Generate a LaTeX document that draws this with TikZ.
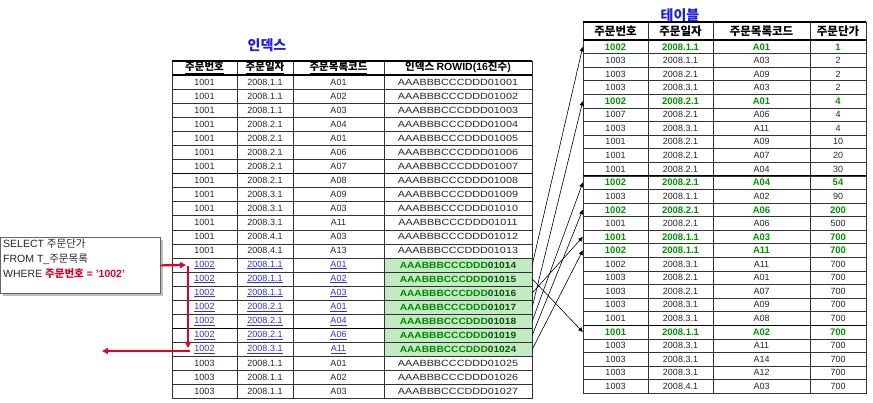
\documentclass[tikz,border=0pt]{standalone}
\usepackage{fontspec}
\setmainfont{Liberation Sans}
\newfontfamily\kr{Noto Sans CJK KR}
\usetikzlibrary{arrows.meta}
\definecolor{titleblue}{RGB}{30,30,230}
\definecolor{linkblue}{RGB}{50,50,215}
\definecolor{gtext}{RGB}{0,150,0}
\definecolor{lgreen}{RGB}{195,235,195}
\definecolor{ridg}{RGB}{0,135,0}
\definecolor{ridd}{RGB}{0,85,0}
\definecolor{sqlred}{RGB}{225,0,40}
\newcommand{\ridn}[1]{\scalebox{1.2}[1]{AAABBBCCCDDD#1}}
\newcommand{\ridg}[1]{\scalebox{1.13}[1]{\textcolor{ridg}{AAABBBCCCDDD}\textcolor{ridd}{#1}}}
\begin{document}
\begin{tikzpicture}[x=1pt,y=-1pt,
  cell/.style={inner sep=0pt, minimum height=12pt, font=\fontsize{9}{10}\selectfont, text=black!85},
  hcell/.style={inner sep=0pt, minimum height=12pt, font=\fontsize{10.5}{11}\selectfont\kr\bfseries, text=black},
  rhcell/.style={hcell, font=\fontsize{11.5}{12}\selectfont\kr\bfseries},
  nr/.style={cell},
  gr/.style={cell, text=gtext, font=\fontsize{9.5}{10}\selectfont\bfseries},
  lb/.style={cell, text=linkblue},
  ttl/.style={inner sep=0pt, font=\fontsize{14}{16}\selectfont\kr\bfseries, text=titleblue},
  gridline/.style={line width=0.5pt, draw=black!80},
  thk/.style={line width=1.3pt, draw=black},
  blk/.style={line width=0.6pt, -{Triangle[length=4.5pt,width=4pt]}},
  redarr/.style={line width=2.2pt, draw=sqlred, -{Triangle[length=6pt,width=6pt]}},
  sqltxt/.style={inner sep=0pt, anchor=west, font=\fontsize{10.5}{12}\selectfont, text=black!85}
]
\useasboundingbox (0,0) rectangle (873,403);

% ---------- titles ----------
\node[ttl] (ltitle) at (267,45) {인덱스};
\node[ttl] (rtitle) at (680,15) {테이블};

% ---------- left table (index) ----------
\fill[lgreen] (384,{75+13*14.07}) rectangle (532,{75+20*14.07});
\draw[gridline] (172,61) rectangle (532,398.6);
\foreach \k in {1,...,22} \draw[gridline] (172,{75+\k*14.07}) -- (532,{75+\k*14.07});
\foreach \x in {237,293,384} \draw[gridline] (\x,61) -- (\x,398.6);
\draw[thk] (172,61) -- (532,61);
\draw[thk] (172,75) -- (532,75);
\draw[thk] (172,{75+7*14.07}) -- (532,{75+7*14.07});
\draw[thk] (172,{75+18*14.07}) -- (532,{75+18*14.07});

\node[hcell, minimum width=65pt] (LH-a) at (204.5,68) {\underline{주문번호}};
\node[hcell, minimum width=56pt] (LH-b) at (265,68) {\underline{주문일자}};
\node[hcell, minimum width=91pt] (LH-c) at (338.5,68) {\underline{주문목록코드}};
\node[hcell, minimum width=148pt] (LH-d) at (458,68) {\underline{인덱스 {\rmfamily\bfseries ROWID(16}진수{\rmfamily\bfseries )}}};

\foreach \i/\a/\b/\c/\d in {1/1001/2008.1.1/A01/01001, 2/1001/2008.1.1/A02/01002,
  3/1001/2008.1.1/A03/01003, 4/1001/2008.2.1/A04/01004, 5/1001/2008.2.1/A01/01005,
  6/1001/2008.2.1/A06/01006, 7/1001/2008.2.1/A07/01007, 8/1001/2008.2.1/A08/01008,
  9/1001/2008.3.1/A09/01009, 10/1001/2008.3.1/A03/01010, 11/1001/2008.3.1/A11/01011,
  12/1001/2008.4.1/A03/01012, 13/1001/2008.4.1/A13/01013, 21/1003/2008.1.1/A01/01025,
  22/1003/2008.1.1/A02/01026, 23/1003/2008.1.1/A03/01027}{
  \pgfmathsetmacro\y{75+(\i-0.5)*14.07}
  \node[nr, minimum width=65pt] (L\i-a) at (204.5,\y) {\a};
  \node[nr, minimum width=56pt] (L\i-b) at (265,\y) {\b};
  \node[nr, minimum width=91pt] (L\i-c) at (338.5,\y) {\c};
  \node[nr, minimum width=148pt] (L\i-d) at (458,\y) {\ridn{\d}};
}
\foreach \i/\b/\c/\d in {14/2008.1.1/A01/01014, 15/2008.1.1/A02/01015,
  16/2008.1.1/A03/01016, 17/2008.2.1/A01/01017, 18/2008.2.1/A04/01018,
  19/2008.2.1/A06/01019, 20/2008.3.1/A11/01024}{
  \pgfmathsetmacro\y{75+(\i-0.5)*14.07}
  \node[lb, minimum width=65pt] (L\i-a) at (204.5,\y) {\underline{1002}};
  \node[lb, minimum width=56pt] (L\i-b) at (265,\y) {\underline{\b}};
  \node[lb, minimum width=91pt] (L\i-c) at (338.5,\y) {\underline{\c}};
  \node[cell, font=\fontsize{9}{10}\selectfont\bfseries, minimum width=148pt] (L\i-d) at (458,\y) {\ridg{\d}};
}

% ---------- right table ----------
\draw[gridline] (583,22) rectangle (866,393.08);
\foreach \k in {1,...,25} \draw[gridline] (583,{40+\k*13.58}) -- (866,{40+\k*13.58});
\foreach \x in {648,713,810} \draw[gridline] (\x,22) -- (\x,393.08);
\draw[thk] (583,22) -- (866,22);
\draw[thk] (583,40) -- (866,40);
\draw[thk] (583,{40+10*13.58}) -- (866,{40+10*13.58});
\draw[thk] (583,{40+21*13.58}) -- (866,{40+21*13.58});

\node[rhcell, minimum width=65pt] (RH-a) at (615.5,31) {주문번호};
\node[rhcell, minimum width=65pt] (RH-b) at (680.5,31) {주문일자};
\node[rhcell, minimum width=97pt] (RH-c) at (761.5,31) {주문목록코드};
\node[rhcell, minimum width=56pt] (RH-d) at (838,31) {주문단가};

\foreach \i/\a/\b/\c/\d/\s in {1/1002/2008.1.1/A01/1/gr, 2/1003/2008.1.1/A03/2/nr,
  3/1003/2008.2.1/A09/2/nr, 4/1003/2008.3.1/A03/2/nr, 5/1002/2008.2.1/A01/4/gr,
  6/1007/2008.2.1/A06/4/nr, 7/1003/2008.3.1/A11/4/nr, 8/1001/2008.2.1/A09/10/nr,
  9/1001/2008.2.1/A07/20/nr, 10/1001/2008.2.1/A04/30/nr, 11/1002/2008.2.1/A04/54/gr,
  12/1003/2008.1.1/A02/90/nr, 13/1002/2008.2.1/A06/200/gr, 14/1001/2008.2.1/A06/500/nr,
  15/1001/2008.1.1/A03/700/gr, 16/1002/2008.1.1/A11/700/gr, 17/1002/2008.3.1/A11/700/nr,
  18/1003/2008.2.1/A01/700/nr, 19/1003/2008.2.1/A07/700/nr, 20/1003/2008.3.1/A09/700/nr,
  21/1001/2008.3.1/A08/700/nr, 22/1001/2008.1.1/A02/700/gr, 23/1003/2008.3.1/A11/700/nr,
  24/1003/2008.3.1/A14/700/nr, 25/1003/2008.3.1/A12/700/nr, 26/1003/2008.4.1/A03/700/nr}{
  \pgfmathsetmacro\y{40+(\i-0.5)*13.58}
  \node[\s, minimum width=65pt] (R\i-a) at (615.5,\y) {\a};
  \node[\s, minimum width=65pt] (R\i-b) at (680.5,\y) {\b};
  \node[\s, minimum width=97pt] (R\i-c) at (761.5,\y) {\c};
  \node[\s, minimum width=56pt] (R\i-d) at (838,\y) {\d};
}

% ---------- index -> table arrows ----------
\draw[blk] (L14-d.east) -- (R1-a.west);
\draw[blk] (L15-d.east) -- (R22-a.west);
\draw[blk] (L16-d.east) -- (R15-a.west);
\draw[blk] (L17-d.east) -- (R5-a.west);
\draw[blk] (L18-d.east) -- (R11-a.west);
\draw[blk] (L19-d.east) -- (R13-a.west);
\draw[blk] (L20-d.east) -- (R16-a.west);

% ---------- SQL box ----------
\fill[black!25] (3,240) rectangle (163,296);
\node[draw=black!60, fill=white, line width=0.8pt, inner sep=0pt, minimum width=160pt, minimum height=56pt, anchor=north west] (sql) at (0,237) {};
\node[sqltxt] (s1) at (3,244) {SELECT {\kr 주문단가}};
\node[sqltxt] (s2) at (3,259) {FROM T\_{\kr 주문목록}};
\node[sqltxt] (s3) at (3,274) {WHERE \textcolor{sqlred}{\bfseries{\kr 주문번호} = '1002'}};

% ---------- red arrows ----------
\coordinate (r1) at (186,265);
\coordinate (r2s) at (188,266);
\coordinate (r2e) at (188,348);
\coordinate (r3s) at (190,351);
\coordinate (r3e) at (102,351);
\draw[redarr] (sql.east) -- (r1);
\draw[redarr] (r2s) -- (r2e);
\draw[redarr] (r3s) -- (r3e);
\end{tikzpicture}
\end{document}
